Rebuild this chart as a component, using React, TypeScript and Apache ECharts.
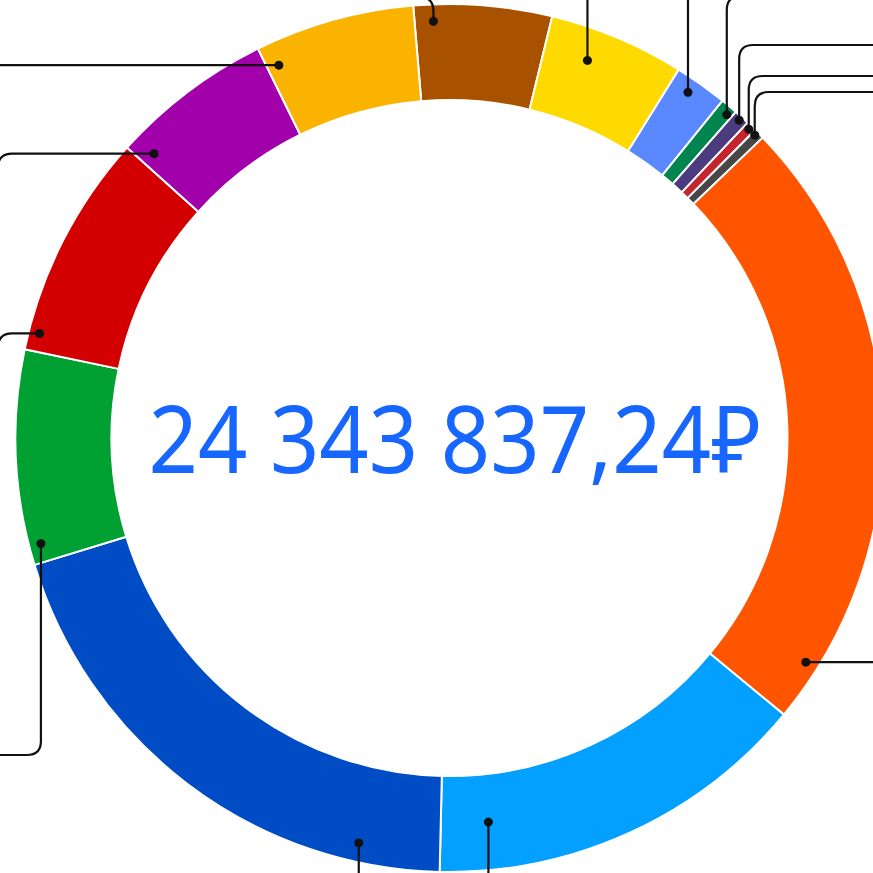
import React, { useEffect, useRef } from 'react';
import * as echarts from 'echarts';

// ---- data (clockwise, starting at the brown slice just left of 12 o'clock) ----
const categories = [
  'Категория 1', 'Категория 2', 'Категория 3', 'Категория 4', 'Категория 5',
  'Категория 6', 'Категория 7', 'Категория 8', 'Категория 9', 'Категория 10',
  'Категория 11', 'Категория 12', 'Категория 13', 'Категория 14',
];
const values = [
  1251002.74, 1230716.18, 480114.57, 155530.1, 142005.7,
  94670.5, 94670.5, 5639655.6, 3496045.5, 4848480.9,
  1947507.0, 2042177.5, 1474154.6, 1447106.0,
];
const colors = [
  '#A85200', '#FFDA00', '#5A88FF', '#00854F', '#4C3B7E',
  '#C4252C', '#474747', '#FF5500', '#03A0FF', '#004CC4',
  '#00A033', '#D20000', '#A100AB', '#F9B300',
];
const totalLabel = '24 343 837,24₽';

// ---- leader-line layout (style, not data) ----
type Dir = 'up' | 'down' | 'left' | 'right';
interface Leader { frac: number; r: number; dir: Dir; turn?: { dir: Dir; at: number } }
const leaders: Leader[] = [
  { frac: 0.14, r: 417, dir: 'up', turn: { dir: 'left', at: -3 } },
  { frac: 0.35, r: 402, dir: 'up' },
  { frac: 0.38, r: 420, dir: 'up' },
  { frac: 0.7, r: 426, dir: 'up', turn: { dir: 'right', at: -4 } },
  { frac: 0.5, r: 430, dir: 'up', turn: { dir: 'right', at: 45 } },
  { frac: 0.5, r: 430, dir: 'up', turn: { dir: 'right', at: 76 } },
  { frac: 0.3, r: 430, dir: 'up', turn: { dir: 'right', at: 92 } },
  { frac: 0.911, r: 421, dir: 'right' },
  { frac: 0.863, r: 386, dir: 'down' },
  { frac: 0.158, r: 415, dir: 'down' },
  { frac: 0.087, r: 422, dir: 'down', turn: { dir: 'left', at: 755 } },
  { frac: 0.083, r: 423, dir: 'left', turn: { dir: 'down', at: -2 } },
  { frac: 0.087, r: 410, dir: 'left', turn: { dir: 'down', at: -2 } },
  { frac: 0.075, r: 410, dir: 'left' },
];

const CENTER: [number, number] = [449.5, 438];
const R_IN = 338;
const R_OUT = 434;
const START = 94.8;

const vec: Record<Dir, [number, number]> = { up: [0, -1], down: [0, 1], left: [-1, 0], right: [1, 0] };

export default function App() {
  const ref = useRef<HTMLDivElement>(null);
  useEffect(() => {
    if (!ref.current) return;
    const chart = echarts.init(ref.current, undefined, { renderer: 'svg' });
    const total = values.reduce((a, b) => a + b, 0);
    let cum = 0;
    const leaderData = values.map((v, i) => {
      const a = cum + v * leaders[i].frac;
      cum += v;
      return [leaders[i].r, a];
    });

    chart.setOption({
      animation: false,
      polar: { center: CENTER, radius: [0, R_OUT] },
      angleAxis: {
        type: 'value', min: 0, max: total, startAngle: START, clockwise: true, show: false,
        axisLine: { show: false }, axisLabel: { show: false }, splitLine: { show: false }, axisTick: { show: false },
      },
      radiusAxis: {
        type: 'value', min: 0, max: R_OUT, show: false,
        axisLine: { show: false }, axisLabel: { show: false }, splitLine: { show: false }, axisTick: { show: false },
      },
      series: [
        {
          type: 'pie',
          center: CENTER,
          radius: [R_IN, R_OUT],
          startAngle: START,
          clockwise: true,
          label: { show: false },
          labelLine: { show: false },
          emphasis: { disabled: true },
          itemStyle: { borderColor: '#ffffff', borderWidth: 2 },
          data: categories.map((name, i) => ({ name, value: values[i], itemStyle: { color: colors[i] } })),
          z: 1,
        },
        {
          type: 'custom',
          coordinateSystem: 'polar',
          silent: true,
          z: 5,
          clip: false,
          data: leaderData,
          renderItem: (params: any, api: any) => {
            const i = params.dataIndex;
            const p = api.coord([api.value(0), api.value(1)]);
            const L = leaders[i];
            const d1 = vec[L.dir];
            const far = 2000;
            let d: string;
            if (!L.turn) {
              d = `M${p[0]} ${p[1]} L${p[0] + d1[0] * far} ${p[1] + d1[1] * far}`;
            } else {
              const d2 = vec[L.turn.dir];
              const c = d1[0] === 0 ? [p[0], L.turn.at] : [L.turn.at, p[1]];
              const R = 14;
              const a = [c[0] - d1[0] * R, c[1] - d1[1] * R];
              const b = [c[0] + d2[0] * R, c[1] + d2[1] * R];
              d = `M${p[0]} ${p[1]} L${a[0]} ${a[1]} Q${c[0]} ${c[1]} ${b[0]} ${b[1]} L${c[0] + d2[0] * far} ${c[1] + d2[1] * far}`;
            }
            return {
              type: 'group',
              children: [
                { type: 'path', shape: { pathData: d }, style: { stroke: '#111111', lineWidth: 2.2, fill: null } },
                { type: 'circle', shape: { cx: p[0], cy: p[1], r: 4.5 }, style: { fill: '#111111' } },
              ],
            };
          },
        },
      ],
      graphic: [
        {
          type: 'text',
          x: 455,
          y: 436,
          scaleX: 0.92,
          z: 10,
          style: {
            text: totalLabel,
            fill: '#1766FF',
            fontSize: 94,
            fontFamily: '"Noto Sans", sans-serif',
            textAlign: 'center',
            textVerticalAlign: 'middle',
          },
        },
      ],
    });
    return () => chart.dispose();
  }, []);
  return <div ref={ref} style={{ position: 'absolute', left: 0, top: 0, width: 873, height: 873 }} />;
}
